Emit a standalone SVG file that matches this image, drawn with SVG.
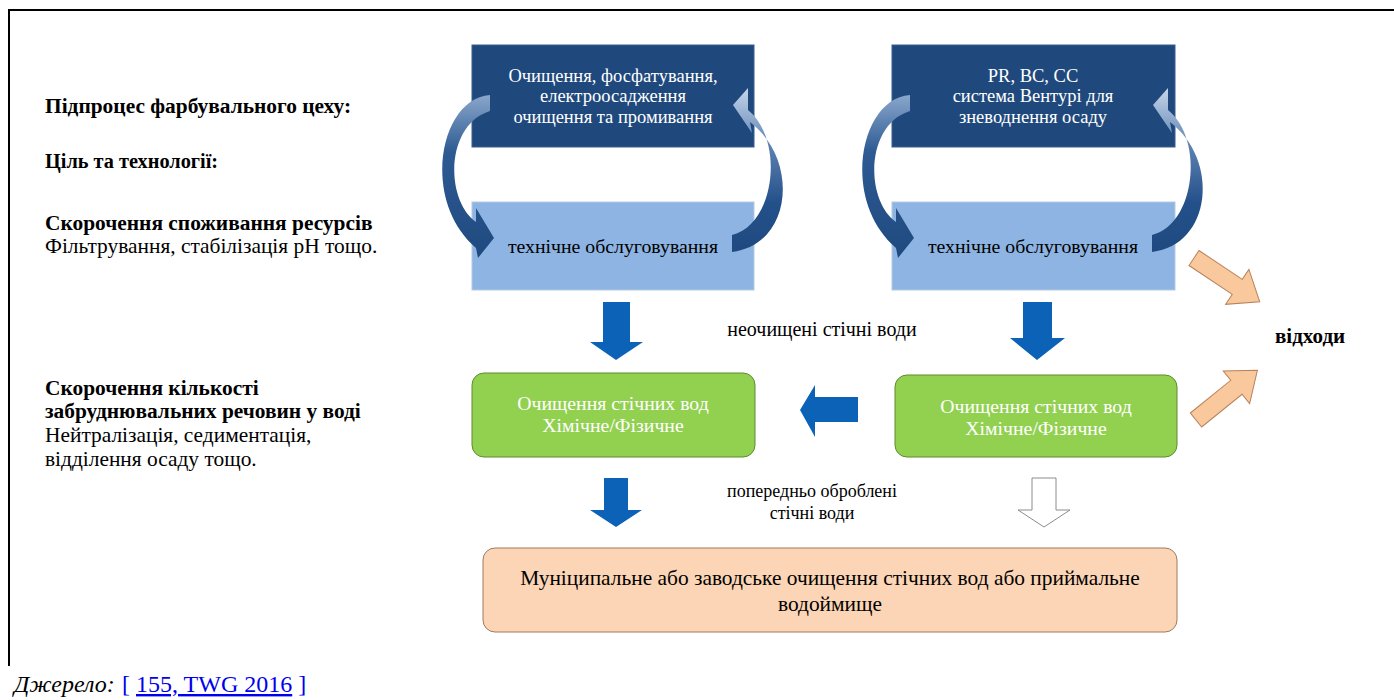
<svg xmlns="http://www.w3.org/2000/svg" width="1394" height="700" viewBox="0 0 1394 700" font-family="Liberation Serif, Times New Roman, serif">
<style>
text{font-family:"Liberation Serif","Times New Roman",serif;}
.hd{font-weight:bold;font-size:21.4px;fill:#000;}
.rg{font-size:21.4px;fill:#000;}
.wt{font-size:18.5px;fill:#fff;text-anchor:middle;}
.wg{font-size:19.8px;fill:#fff;text-anchor:middle;}
.bt{font-size:20px;fill:#000;text-anchor:middle;}
.dark{fill:#1f497d;stroke:#3a5f8f;stroke-width:1;}
.light{fill:#8eb4e3;stroke:#b4c9e3;stroke-width:1;}
.green{fill:#92d050;stroke:#5e8a30;stroke-width:1;}
.peach{fill:#fbd5b5;stroke:#a07a5a;stroke-width:1;}
.blue{fill:#0b62b7;}
.hollow{fill:#fff;stroke:#8c8c8c;stroke-width:1;}
.orange{fill:#f9c89d;stroke:#b9825a;stroke-width:1;}
.curve{fill:url(#cg);}
.curve2{fill:url(#cg2);}
</style>
<defs>
<linearGradient id="cg" x1="0" y1="0" x2="0" y2="1">
<stop offset="0" stop-color="#8aa7cc"/><stop offset="0.35" stop-color="#2d5a92"/><stop offset="1" stop-color="#1f4a80"/>
</linearGradient>
<linearGradient id="cg2" x1="0" y1="0" x2="0" y2="1">
<stop offset="0" stop-color="#c6d6ea"/><stop offset="0.35" stop-color="#5d82b2"/><stop offset="0.7" stop-color="#24508a"/><stop offset="1" stop-color="#1f4a80"/>
</linearGradient>
</defs>
<rect x="0" y="0" width="1394" height="700" fill="#fff"/>
<g id="frame">
<line x1="9" y1="10" x2="1394" y2="10" stroke="#000" stroke-width="2"/>
<line x1="9" y1="9" x2="9" y2="666" stroke="#000" stroke-width="2"/>
</g>
<g id="left-text">
<text class="hd" x="45" y="113">Підпроцес фарбувального цеху:</text>
<text class="hd" x="45" y="168" style="font-size:20.3px">Ціль та технології:</text>
<text class="hd" x="45" y="230">Скорочення споживання ресурсів</text>
<text class="rg" x="45" y="253">Фільтрування, стабілізація pH тощо.</text>
<text class="hd" x="45" y="395">Скорочення кількості</text>
<text class="hd" x="45" y="418">забруднювальних речовин у воді</text>
<text class="rg" x="45" y="442">Нейтралізація, седиментація,</text>
<text class="rg" x="45" y="466">відділення осаду тощо.</text>
</g>
<g id="source">
<text x="14" y="692" style="font-size:24px;font-style:italic">Джерело:</text>
<text x="122" y="692" style="font-size:24px;fill:#0000ee">[ <tspan text-decoration="underline">155, TWG 2016</tspan> ]</text>
</g>
<g id="node-top-left">
<rect class="dark" x="472" y="45" width="282" height="102"/>
<text class="wt" x="613" y="82">Очищення, фосфатування,</text>
<text class="wt" x="613" y="102">електроосадження</text>
<text class="wt" x="613" y="123">очищення та промивання</text>
</g>
<g id="node-maint-left">
<rect class="light" x="472" y="202" width="282" height="88"/>
<text class="bt" x="613" y="253" style="font-size:19.8px">технічне обслуговування</text>
</g>
<g id="node-top-right">
<rect class="dark" x="892" y="45" width="283" height="102"/>
<text class="wt" x="1033" y="82">PR, BC, CC</text>
<text class="wt" x="1033" y="102">система Вентурі для</text>
<text class="wt" x="1033" y="123">зневоднення осаду</text>
</g>
<g id="node-maint-right">
<rect class="light" x="892" y="202" width="283" height="88"/>
<text class="bt" x="1033" y="253" style="font-size:19.8px">технічне обслуговування</text>
</g>
<g id="node-wwt-left">
<rect class="green" x="472" y="373" width="283" height="84" rx="12"/>
<text class="wg" x="613" y="410">Очищення стічних вод</text>
<text class="wg" x="613" y="432">Хімічне/Фізичне</text>
</g>
<g id="node-wwt-right">
<rect class="green" x="895" y="375" width="282" height="82" rx="12"/>
<text class="wg" x="1036" y="413">Очищення стічних вод</text>
<text class="wg" x="1036" y="435">Хімічне/Фізичне</text>
</g>
<g id="node-municipal">
<rect class="peach" x="483" y="548" width="694" height="84" rx="12"/>
<text class="bt" x="830" y="585" style="font-size:21.4px">Муніципальне або заводське очищення стічних вод або приймальне</text>
<text class="bt" x="830" y="611" style="font-size:21.4px">водоймище</text>
</g>
<g id="node-waste">
<text x="1275" y="343" style="font-size:21px;font-weight:bold">відходи</text>
</g>
<g id="labels">
<text class="bt" x="822" y="336">неочищені стічні води</text>
<text class="bt" x="812" y="497" style="font-size:18px">попередньо оброблені</text>
<text class="bt" x="812" y="519" style="font-size:18px">стічні води</text>
</g>
<g id="connectors">
<path class="curve" d="M 490,95 C 440,98 420,200 476,248 L 478,258 L 494,238 L 476,208 L 476,222 C 445,200 445,125 490,111 Z"/>
<path class="curve2" d="M 732,252 C 792,245 800,160 750,122 L 752,133 L 733,105 L 748,88 L 748,110 C 785,140 775,225 732,235 Z"/>
<path class="curve" transform="translate(420,0)" d="M 490,95 C 440,98 420,200 476,248 L 478,258 L 494,238 L 476,208 L 476,222 C 445,200 445,125 490,111 Z"/>
<path class="curve2" transform="translate(420,0)" d="M 732,252 C 792,245 800,160 750,122 L 752,133 L 733,105 L 748,88 L 748,110 C 785,140 775,225 732,235 Z"/>
<path class="blue" d="M 603,302 H 630 V 342 H 643 L 616,360 L 590,342 H 603 Z"/>
<path class="blue" d="M 1023,302 H 1052 V 338 H 1065 L 1037,360 L 1010,338 H 1023 Z"/>
<path class="blue" d="M 858,397 V 422 H 815 V 437 L 800,410 L 815,385 V 397 Z"/>
<path class="blue" d="M 604,478 H 628 V 510 H 642 L 616,527 L 590,510 H 604 Z"/>
<path class="hollow" d="M 1032,478 H 1056 V 510 H 1070 L 1044,527 L 1018,510 H 1032 Z"/>
<path class="orange" transform="translate(1194,258) rotate(33.7)" d="M 0,-9 H 52 V -21 L 79,0 L 52,21 V 9 H 0 Z"/>
<path class="orange" transform="translate(1196,420) rotate(-39)" d="M 0,-9 H 52 V -21 L 79,0 L 52,21 V 9 H 0 Z"/>
</g>
</svg>
